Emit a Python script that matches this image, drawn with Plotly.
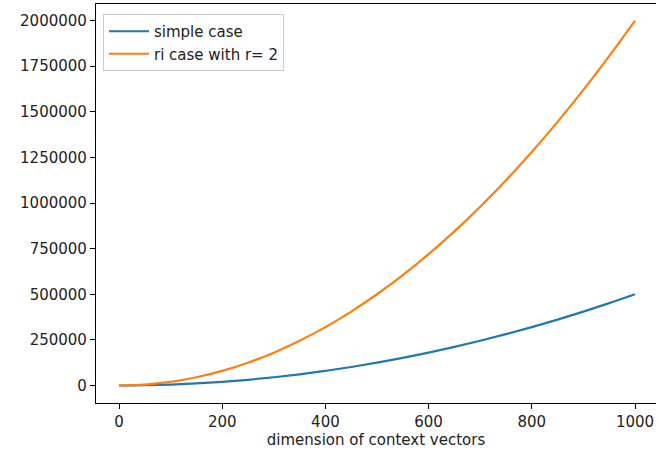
import plotly.graph_objects as go

dims = [0, 50, 100, 150, 200, 250, 300, 350, 400, 450, 500,
        550, 600, 650, 700, 750, 800, 850, 900, 950, 1000]
simple_case = [0, 1250, 5000, 11250, 20000, 31250, 45000, 61250, 80000, 101250, 125000,
               151250, 180000, 211250, 245000, 281250, 320000, 361250, 405000, 451250, 500000]
ri_case = [0, 5000, 20000, 45000, 80000, 125000, 180000, 245000, 320000, 405000, 500000,
           605000, 720000, 845000, 980000, 1125000, 1280000, 1445000, 1620000, 1805000, 2000000]
x_ticks = [0, 200, 400, 600, 800, 1000]
y_ticks = [0, 250000, 500000, 750000, 1000000, 1250000, 1500000, 1750000, 2000000]

font = "DejaVu Sans"
fig = go.Figure()
fig.add_trace(go.Scatter(x=dims, y=simple_case, mode="lines", name="simple case",
                         line=dict(color="#1f77b4", width=2.2, shape="spline")))
fig.add_trace(go.Scatter(x=dims, y=ri_case, mode="lines", name="ri case with r= 2",
                         line=dict(color="#ff7f0e", width=2.2, shape="spline")))

fig.update_layout(
    width=657, height=454,
    margin=dict(l=96, r=1, t=4, b=51, autoexpand=False),
    plot_bgcolor="white", paper_bgcolor="white",
    font=dict(family=font, size=15, color="#222"),
    legend=dict(x=0.0125, y=0.975, xanchor="left", yanchor="top",
                bgcolor="rgba(255,255,255,0.9)", bordercolor="#cccccc", borderwidth=1,
                font=dict(size=15), tracegroupgap=0, itemwidth=40),
    xaxis=dict(range=[-44.6, 1040.7], tickvals=x_ticks, ticks="outside", ticklen=5,
               tickcolor="black", showline=True, linecolor="black", linewidth=1.2,
               mirror=True, showgrid=False, zeroline=False, automargin=False,
               title=dict(text="dimension of context vectors", font=dict(size=15), standoff=2)),
    yaxis=dict(range=[-96000, 2091000], tickvals=y_ticks, tickformat="d", ticks="outside",
               ticklen=5, tickcolor="black", showline=True, linecolor="black", linewidth=1.2,
               showgrid=False, zeroline=False, automargin=False),
)
fig.write_html("out.html", config={"displayModeBar": False},
               post_script="document.body.style.margin='0';document.body.style.overflow='hidden';")
